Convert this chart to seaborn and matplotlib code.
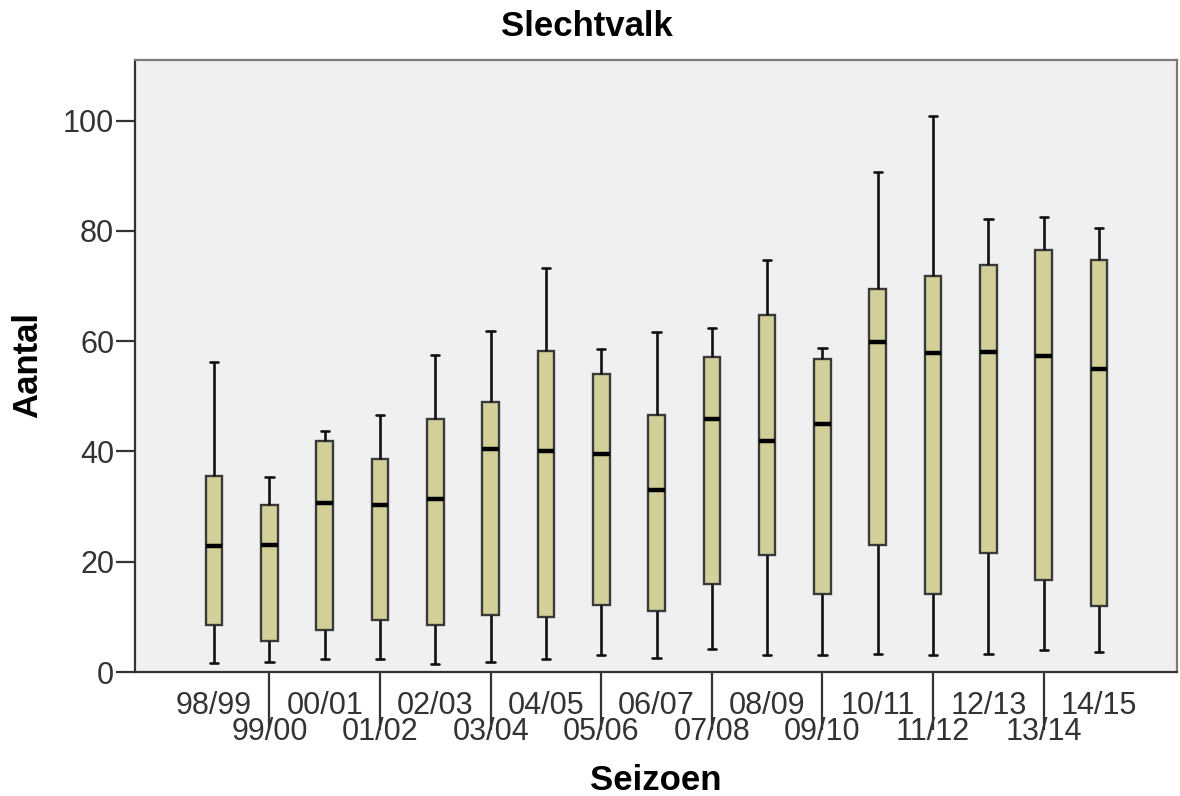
import numpy as np
import pandas as pd
import matplotlib
matplotlib.use("Agg")
import matplotlib.pyplot as plt
import seaborn as sns

# Five-number summaries per season (Slechtvalk counts)
seasons = ["98/99", "99/00", "00/01", "01/02", "02/03", "03/04", "04/05", "05/06",
           "06/07", "07/08", "08/09", "09/10", "10/11", "11/12", "12/13", "13/14", "14/15"]
minimum = [1.6, 1.8, 2.4, 2.4, 1.5, 1.8, 2.4, 3.1, 2.5, 4.1, 3.0, 3.0, 3.2, 3.1, 3.2, 3.9, 3.6]
q1 = [8.5, 5.6, 7.7, 9.5, 8.5, 10.4, 10.0, 12.1, 11.1, 15.9, 21.3, 14.1, 23.0, 14.1, 21.5, 16.7, 11.9]
median = [22.8, 23.1, 30.7, 30.3, 31.4, 40.4, 40.0, 39.6, 33.0, 45.9, 41.9, 45.0, 59.9, 57.8, 58.1, 57.3, 55.0]
q3 = [35.6, 30.3, 41.9, 38.7, 45.9, 49.0, 58.3, 54.1, 46.7, 57.2, 64.8, 56.8, 69.4, 71.9, 73.9, 76.6, 74.7]
maximum = [56.3, 35.4, 43.7, 46.6, 57.5, 61.9, 73.3, 58.5, 61.6, 62.4, 74.8, 58.8, 90.6, 100.9, 82.1, 82.5, 80.5]
y_ticks = [0, 20, 40, 60, 80, 100]

# Long-form table: the five summary points per season reproduce the
# quartiles exactly with linear percentile interpolation.
rows = []
for s, a, b, c, d, e in zip(seasons, minimum, q1, median, q3, maximum):
    for v in (a, b, c, d, e):
        rows.append({"Seizoen": s, "Aantal": v})
df = pd.DataFrame(rows)

sns.set_style("white")
plt.rcParams["font.family"] = ["Liberation Sans", "DejaVu Sans"]

fig = plt.figure(figsize=(11.8, 7.96), dpi=100)
ax = fig.add_axes([135 / 1180, 124 / 796, 1042 / 1180, 612 / 796])
ax.set_facecolor("#f0f0f0")

sns.boxplot(
    data=df, x="Seizoen", y="Aantal", order=seasons, ax=ax,
    whis=(0, 100), width=0.3, color="#d3cf98", saturation=1,
    linecolor="#111111", linewidth=1.6, fliersize=0,
    boxprops=dict(edgecolor="#3a3a3a", linewidth=1.7),
    medianprops=dict(color="black", linewidth=3.2),
    whiskerprops=dict(color="#111111", linewidth=1.9),
    capprops=dict(color="#111111", linewidth=1.9),
)
# narrower caps
for line in ax.lines:
    xd = np.asarray(line.get_xdata(), dtype=float)
    yd = np.asarray(line.get_ydata(), dtype=float)
    if len(xd) == 2 and np.isclose(yd[0], yd[1]) and not np.isclose(xd[0], xd[1]):
        lw = line.get_linewidth()
        if lw < 3:
            cx = xd.mean()
            line.set_xdata([cx - 0.075, cx + 0.075])

ax.set_xlim(-1.43, 17.41)
ax.set_ylim(0, 111)

# staggered category labels: even positions on the first row, odd on the second
pos = np.arange(len(seasons))
ax.set_xticks(pos[::2], [seasons[i] for i in pos[::2]])
ax.set_xticks(pos[1::2], [seasons[i] for i in pos[1::2]], minor=True)
ax.tick_params(axis="x", which="major", length=13, width=1.6, color="#333333",
               pad=0.5, labelsize=22, labelcolor="#333333")
ax.tick_params(axis="x", which="minor", length=42, width=1.6, color="#333333",
               pad=-9.5, labelsize=22, labelcolor="#333333", bottom=True)

ax.set_yticks(y_ticks, [str(v) for v in y_ticks])
ax.tick_params(axis="y", length=14, width=1.6, color="#333333", pad=1,
               labelsize=22, labelcolor="#333333", left=True)

for side in ("left", "bottom"):
    ax.spines[side].set_color("#333333")
    ax.spines[side].set_linewidth(1.6)
for side in ("top", "right"):
    ax.spines[side].set_color("#7a7a7a")
    ax.spines[side].set_linewidth(1.6)

ax.set_xlabel("")
ax.set_ylabel("")
fig.text(587 / 1180, 1 - 27 / 796, "Slechtvalk", ha="center", va="center",
         fontsize=25, fontweight="bold", color="black")
fig.text(656 / 1180, 1 - 781 / 796, "Seizoen", ha="center", va="center",
         fontsize=25, fontweight="bold", color="black")
fig.text(28 / 1180, 1 - 365 / 796, "Aantal", ha="center", va="center",
         rotation=90, fontsize=25, fontweight="bold", color="black")

fig.savefig("out.png", dpi=100)
